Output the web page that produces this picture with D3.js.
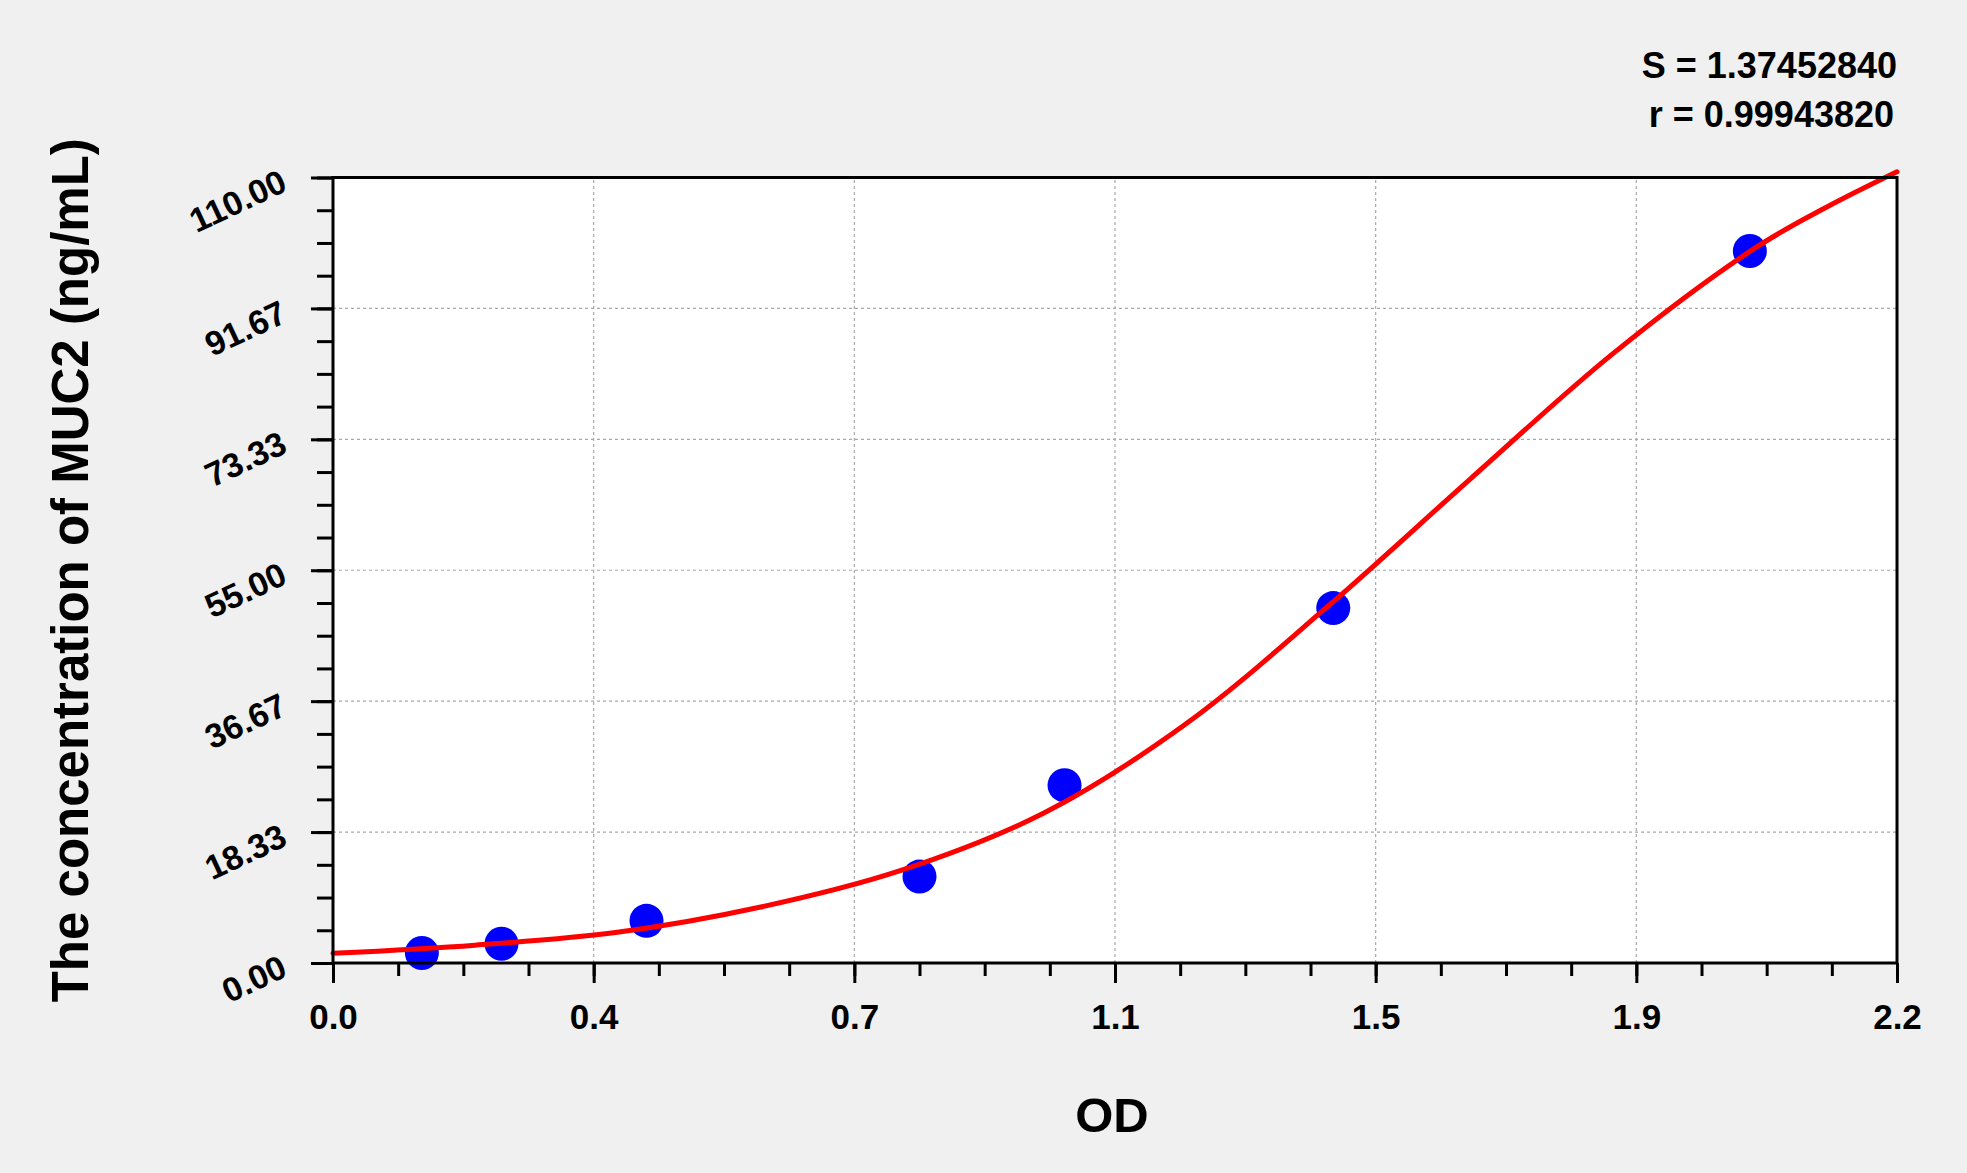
<!DOCTYPE html>
<html>
<head>
<meta charset="utf-8">
<script src="https://cdn.jsdelivr.net/npm/d3@7"></script>
<style>
  html, body { margin: 0; padding: 0; background: #f0f0f0; }
  svg { display: block; }
  text { font-family: "Liberation Sans", Arial, sans-serif; font-weight: bold; fill: #000; }
</style>
</head>
<body>
<div id="chart"></div>
<script>
// standards
const pointOD   = [0.125, 0.237, 0.441, 0.825, 1.029, 1.407, 1.993]
const pointConc = [1.4, 2.7, 5.9, 12.1, 24.9, 49.7, 99.7]

// fitted curve
const curveOD   = [0, 0.2, 0.4, 0.6, 0.8, 1.0, 1.2, 1.4, 1.6, 1.8, 2.0, 2.1, 2.2]
const curveConc = [1.35, 2.5, 4.3, 7.8, 13.0, 21.0, 33.5, 50.0, 67.8, 85.3, 100.1, 105.8, 110.8]

const xTickLabels = ["0.0", "0.4", "0.7", "1.1", "1.5", "1.9", "2.2"]
const yTickLabels = ["0.00", "18.33", "36.67", "55.00", "73.33", "91.67", "110.00"]

const statS = "S = 1.37452840"
const statR = "r = 0.99943820"

;(function drawChart () {
  const width = 1967,
        height = 1173,
        margin = {top: 177.5, right: 70, bottom: 210, left: 333}

  const xMax = 2.2, yMax = 110

  let x = d3.scaleLinear()
      .domain([0, xMax])
      .range([margin.left, width - margin.right])

  let y = d3.scaleLinear()
      .domain([0, yMax])
      .range([height - margin.bottom, margin.top])

  const xMajor = xTickLabels.map((d, i) => i * xMax / (xTickLabels.length - 1))
  const yMajor = yTickLabels.map((d, i) => i * yMax / (yTickLabels.length - 1))
  const xMinor = d3.range(0, (xTickLabels.length - 1) * 4 + 1).map(i => i * xMax / ((xTickLabels.length - 1) * 4))
  const yMinor = d3.range(0, (yTickLabels.length - 1) * 4 + 1).map(i => i * yMax / ((yTickLabels.length - 1) * 4))

  const svg = d3.select("#chart")
    .append("svg")
    .attr("width", width)
    .attr("height", height)
    .attr("viewBox", [0, 0, width, height])

  svg.append("rect")
    .attr("width", width).attr("height", height)
    .attr("fill", "#f0f0f0")

  // plot area
  svg.append("rect")
    .attr("x", x(0)).attr("y", y(yMax))
    .attr("width", x(xMax) - x(0)).attr("height", y(0) - y(yMax))
    .attr("fill", "#ffffff")

  // dashed grid
  svg.append("g")
    .selectAll("line")
    .data(xMajor.slice(1, -1))
    .join("line")
    .attr("x1", d => x(d)).attr("x2", d => x(d))
    .attr("y1", y(0)).attr("y2", y(yMax))
    .attr("stroke", "#a8a8a8").attr("stroke-width", 1.2)
    .attr("stroke-dasharray", "3,3")

  svg.append("g")
    .selectAll("line")
    .data(yMajor.slice(1, -1))
    .join("line")
    .attr("y1", d => y(d)).attr("y2", d => y(d))
    .attr("x1", x(0)).attr("x2", x(xMax))
    .attr("stroke", "#a8a8a8").attr("stroke-width", 1.2)
    .attr("stroke-dasharray", "3,3")

  // standards
  const points = pointOD.map((d, i) => ({od: d, c: pointConc[i]}))
  svg.append("g")
    .selectAll("circle")
    .data(points)
    .join("circle")
    .attr("cx", d => x(d.od))
    .attr("cy", d => y(d.c))
    .attr("r", 17)
    .attr("fill", "#0000ff")

  // fitted curve
  const curve = curveOD.map((d, i) => ({od: d, c: curveConc[i]}))
  let line = d3.line()
      .curve(d3.curveCatmullRom)
      .x(d => x(d.od))
      .y(d => y(d.c))

  svg.append("path")
    .datum(curve)
    .attr("fill", "none")
    .attr("stroke", "#ff0000")
    .attr("stroke-width", 5)
    .attr("stroke-linejoin", "round")
    .attr("stroke-linecap", "round")
    .attr("d", line)

  // frame
  svg.append("rect")
    .attr("x", x(0)).attr("y", y(yMax))
    .attr("width", x(xMax) - x(0)).attr("height", y(0) - y(yMax))
    .attr("fill", "none")
    .attr("stroke", "#000").attr("stroke-width", 3)

  // minor ticks
  svg.append("g")
    .attr("transform", `translate(0,${y(0)})`)
    .call(d3.axisBottom(x).tickValues(xMinor).tickSize(13).tickFormat(""))
    .call(g => g.select(".domain").remove())
    .call(g => g.selectAll("line").attr("stroke-width", 3))

  svg.append("g")
    .attr("transform", `translate(${x(0)},0)`)
    .call(d3.axisLeft(y).tickValues(yMinor).tickSize(16).tickFormat(""))
    .call(g => g.select(".domain").remove())
    .call(g => g.selectAll("line").attr("stroke-width", 3))

  // major ticks + labels
  svg.append("g")
    .attr("transform", `translate(0,${y(0)})`)
    .call(d3.axisBottom(x).tickValues(xMajor).tickSize(20).tickFormat((d, i) => xTickLabels[i]))
    .call(g => g.select(".domain").remove())
    .call(g => g.selectAll("line").attr("stroke-width", 3))
    .call(g => g.selectAll("text")
        .attr("y", 66).attr("dy", null)
        .attr("font-size", 35)
        .attr("font-family", null))

  svg.append("g")
    .attr("transform", `translate(${x(0)},0)`)
    .call(d3.axisLeft(y).tickValues(yMajor).tickSize(22).tickFormat((d, i) => yTickLabels[i]))
    .call(g => g.select(".domain").remove())
    .call(g => g.selectAll("line").attr("stroke-width", 3))
    .call(g => g.selectAll("text")
        .attr("x", null).attr("dy", null)
        .attr("text-anchor", "end")
        .attr("transform", "translate(-44,12) rotate(-25)")
        .attr("font-size", 34)
        .attr("font-family", null))

  // titles
  svg.append("text")
    .attr("x", (x(0) + x(xMax)) / 2 - 3)
    .attr("y", 1132)
    .attr("text-anchor", "middle")
    .attr("font-size", 49)
    .text("OD")

  svg.append("text")
    .attr("transform", `translate(88,${(y(0) + y(yMax)) / 2}) rotate(-90)`)
    .attr("text-anchor", "middle")
    .attr("font-size", 51)
    .text("The concentration of MUC2 (ng/mL)")

  svg.append("text")
    .attr("x", x(xMax)).attr("y", 78)
    .attr("text-anchor", "end")
    .attr("font-size", 36)
    .text(statS)

  svg.append("text")
    .attr("x", x(xMax) - 3).attr("y", 127)
    .attr("text-anchor", "end")
    .attr("font-size", 36)
    .text(statR)
})()
</script>
</body>
</html>
